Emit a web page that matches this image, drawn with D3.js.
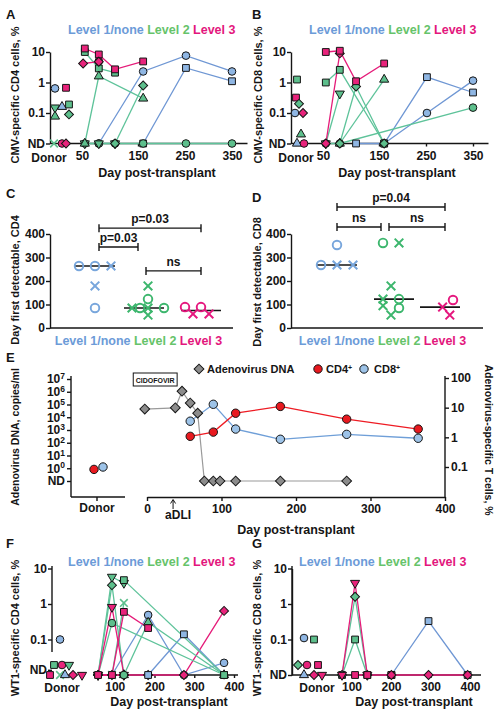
<!DOCTYPE html>
<html><head><meta charset="utf-8">
<script src="https://cdn.jsdelivr.net/npm/d3@7"></script>
<style>
body{margin:0;background:#fff}
svg text{font-family:"Liberation Sans",Arial,sans-serif;font-weight:bold;fill:#151515;white-space:pre}
</style></head><body>
<svg id="c" width="502" height="719"></svg>
<script>
// ---------------- DATA ----------------
const ND = "ND", ND2 = "ND2";
const levelNames = ["Level 1/none ", "Level 2 ", "Level 3"];
const dayTicksAB = [50, 150, 250, 350];
const dayTicksEFG = [0, 100, 200, 300, 400];
const firstTicks = [0, 100, 200, 300, 400];

// Panel A: CMV-specific CD4 (series: level, shape, [day, %])
const cmvCD4Series = [
  {lv:1, sh:"circle", p:[[80,ND],[161,2.3],[252,7.6],[350,2.3]]},
  {lv:1, sh:"square", p:[[161,ND],[252,3.0],[350,1.1]]},
  {lv:2, sh:"circle", p:[[55,ND],[80,ND],[109,ND],[161,ND],[252,ND],[350,ND]]},
  {lv:2, sh:"down",   p:[[55,ND],[80,ND],[109,ND]]},
  {lv:2, sh:"square", p:[[55,10],[80,2.9],[109,2.1]]},
  {lv:2, sh:"triangle", p:[[55,ND],[80,1.6],[161,0.3]]},
  {lv:2, sh:"diamond", p:[[109,ND],[161,0.8]]},
  {lv:3, sh:"square", p:[[55,13],[80,8.3],[109,2.7],[161,4.9]]},
  {lv:3, sh:"circle", p:[[80,5.0]]},
  {lv:3, sh:"diamond", p:[[52,4.2],[80,4.8]]}
];
const cmvCD4Donor = [
  {lv:1, sh:"circle", v:0.64, j:5}, {lv:3, sh:"square", v:0.67, j:16},
  {lv:2, sh:"square", v:0.19, j:19}, {lv:2, sh:"diamond", v:0.09, j:19},
  {lv:1, sh:"triangle", v:0.16, j:12}, {lv:2, sh:"down", v:0.15, j:5},
  {lv:2, sh:"triangle", v:0.077, j:5},
  {lv:2, sh:"x", v:ND, j:4}, {lv:3, sh:"circle", v:ND, j:12}, {lv:3, sh:"diamond", v:ND, j:16}
];

// Panel B: CMV-specific CD8
const cmvCD8Series = [
  {lv:1, sh:"square", p:[[109,ND],[161,ND],[252,1.5],[350,0.47]]},
  {lv:1, sh:"circle", p:[[161,ND],[252,0.1],[350,1.15]]},
  {lv:2, sh:"circle", p:[[55,ND],[80,ND],[350,0.15]]},
  {lv:2, sh:"down",   p:[[55,ND],[80,0.43]]},
  {lv:2, sh:"square", p:[[55,1.0],[80,2.6],[161,ND]]},
  {lv:2, sh:"triangle", p:[[80,ND],[161,1.25]]},
  {lv:2, sh:"diamond", p:[[80,ND],[109,0.74],[161,ND]]},
  {lv:3, sh:"diamond", p:[[55,ND],[80,9]]},
  {lv:3, sh:"square", p:[[55,10],[80,11],[109,1.1],[161,4.2]]}
];
const cmvCD8Donor = [
  {lv:2, sh:"square", v:1.25, j:6}, {lv:3, sh:"square", v:0.32, j:5},
  {lv:2, sh:"diamond", v:0.2, j:8}, {lv:1, sh:"circle", v:0.1, j:4},
  {lv:3, sh:"diamond", v:0.1, j:12}, {lv:2, sh:"triangle", v:0.02, j:10},
  {lv:1, sh:"triangle", v:ND, j:6}, {lv:3, sh:"circle", v:ND, j:13}
];

// Panels C, D: day first detectable (level, shape, day, jitter slot)
const cd4First = [
  {lv:1, sh:"circle", v:264, j:-2}, {lv:1, sh:"circle", v:264, j:0}, {lv:1, sh:"x", v:264, j:2},
  {lv:1, sh:"x", v:179, j:0}, {lv:1, sh:"circle", v:85, j:0},
  {lv:2, sh:"x", v:179, j:0}, {lv:2, sh:"circle", v:123, j:0}, {lv:2, sh:"x", v:85, j:-2},
  {lv:2, sh:"circle", v:85, j:-1}, {lv:2, sh:"x", v:85, j:0}, {lv:2, sh:"circle", v:85, j:2},
  {lv:2, sh:"x", v:55, j:0},
  {lv:3, sh:"circle", v:89, j:-2}, {lv:3, sh:"circle", v:89, j:0},
  {lv:3, sh:"x", v:60, j:-1}, {lv:3, sh:"x", v:60, j:1}
];
const cd8First = [
  {lv:1, sh:"circle", v:268, j:-2}, {lv:1, sh:"x", v:268, j:0}, {lv:1, sh:"x", v:268, j:2},
  {lv:1, sh:"circle", v:353, j:0},
  {lv:2, sh:"circle", v:362, j:-1}, {lv:2, sh:"x", v:362, j:1}, {lv:2, sh:"x", v:179, j:0},
  {lv:2, sh:"x", v:123, j:-1}, {lv:2, sh:"circle", v:123, j:1}, {lv:2, sh:"x", v:95, j:-1},
  {lv:2, sh:"circle", v:85, j:1}, {lv:2, sh:"x", v:55, j:0},
  {lv:3, sh:"x", v:89, j:-0.3}, {lv:3, sh:"circle", v:119, j:1}, {lv:3, sh:"x", v:55, j:0.6}
];
const cd4Brackets = [{a:1, b:3, label:"p=0.03", v:425}, {a:1, b:2, label:"p=0.03", v:345}, {a:2, b:3, label:"ns", v:243}];
const cd8Brackets = [{a:1, b:3, label:"p=0.04", v:515}, {a:1, b:2, label:"ns", v:430}, {a:2, b:3, label:"ns", v:430}];

// Panel E: adenovirus
const adenoDNA = [[-3,4.4e4],[38,5.5e4],[47,1.1e6],[58,1.3e5],[68,2.1e4],[77,ND],[89,ND],[98,ND],[119,ND],[179,ND],[268,ND]];
const adenoCD4 = [[58,1.08],[89,1.5],[119,6.5],[179,11],[268,4.1],[364,1.9]];
const adenoCD8 = [[58,3.5],[89,13],[119,1.9],[179,0.86],[268,1.26],[364,0.93]];
const adenoDonor = [{s:"CD4", v:0.083}, {s:"CD8", v:0.1}];
const dnaTicks = [0.1,1,10,100,1e3,1e4,1e5,1e6,1e7];
const pctTicks = [0.1,1,10,100];
const aDLIday = 35;

// Panel F: WT1-specific CD4
const wt1CD4Series = [
  {lv:1, sh:"circle", p:[[93,ND],[184,0.49],[274,ND],[375,0.022]]},
  {lv:3, sh:"diamond", p:[[58,ND],[93,ND],[123,ND],[184,ND],[274,ND],[375,0.64]]},
  {lv:1, sh:"square", p:[[184,ND],[274,0.14],[375,ND]]},
  {lv:2, sh:"circle", p:[[58,ND],[93,0.29],[375,ND]]},
  {lv:2, sh:"triangle", p:[[123,ND],[184,0.3],[375,ND]]},
  {lv:2, sh:"diamond", p:[[58,ND],[93,3.4],[123,ND]]},
  {lv:2, sh:"down", p:[[58,ND],[93,5.8],[123,3.9]]},
  {lv:2, sh:"square", p:[[123,4.7],[375,ND]]},
  {lv:2, sh:"x", p:[[93,ND],[123,1.07]]},
  {lv:3, sh:"down", p:[[58,ND],[93,0.82],[123,ND]]},
  {lv:3, sh:"square", p:[[58,ND],[93,ND],[123,0.6],[184,0.21]]},
  {lv:2, sh:"circle", p:[[123,ND]]}
];
const wt1CD4Donor = [
  {lv:1, sh:"circle", v:0.1, j:8}, {lv:2, sh:"square", v:ND2, j:2}, {lv:3, sh:"circle", v:ND2, j:10},
  {lv:2, sh:"down", v:ND2, j:17}, {lv:3, sh:"square", v:ND, j:-2}, {lv:2, sh:"x", v:ND, j:8},
  {lv:1, sh:"triangle", v:ND, j:13}, {lv:3, sh:"diamond", v:ND, j:21}, {lv:3, sh:"down", v:ND, j:30}
];

// Panel G: WT1-specific CD8
const wt1CD8Series = [
  {lv:1, sh:"square", p:[[201,ND],[295,0.33],[394,ND]]},
  {lv:2, sh:"square", p:[[76,ND],[109,0.1],[140,ND]]},
  {lv:2, sh:"diamond", p:[[76,ND],[109,1.6],[140,ND]]},
  {lv:3, sh:"down", p:[[76,ND],[109,3.9],[140,ND]]},
  {lv:3, sh:"square", p:[[109,ND],[140,ND],[201,ND]]},
  {lv:3, sh:"diamond", p:[[201,ND],[295,ND],[394,ND]]}
];
const wt1CD8Donor = [
  {lv:1, sh:"circle", v:0.11, j:12}, {lv:2, sh:"square", v:0.1, j:22},
  {lv:2, sh:"diamond", v:ND2, j:6}, {lv:3, sh:"circle", v:ND2, j:15}, {lv:3, sh:"square", v:ND2, j:26},
  {lv:1, sh:"triangle", v:ND, j:12}, {lv:3, sh:"diamond", v:ND, j:22}, {lv:3, sh:"down", v:ND, j:30}
];

// ---------------- DRAWING ----------------
const svg = d3.select("#c");
const INK = "#151515";
const COL = {
  1:{fill:"#8fb6e3", line:"#6f97d4", text:"#6c9bd8", open:"#78a6dc"},
  2:{fill:"#5dbf8c", line:"#5ec39a", text:"#66c36a", open:"#3cb66d"},
  3:{fill:"#e8237b", line:"#e51b79", text:"#e3177d", open:"#e5177e"}
};
function symPath(sh, k){
  k = k || 1;
  if (sh==="circle") return d3.symbol(d3.symbolCircle, 46*k)();
  if (sh==="square") return d3.symbol(d3.symbolSquare, 46*k)();
  if (sh==="diamond") return d3.symbol(d3.symbolSquare, 40*k)();
  if (sh==="triangle"||sh==="down") return d3.symbol(d3.symbolTriangle, 36*k)();
  return d3.symbol(d3.symbolTimes, 40*k)();
}
function rot(sh){ return sh==="diamond"?45:sh==="down"?180:0; }
function marker(g, sh, x, y, lv, open, k){
  const p = g.append("path").attr("d", symPath(sh,k)).attr("transform", `translate(${x},${y}) rotate(${rot(sh)})`);
  if (sh==="x") p.attr("fill","none").attr("stroke", open?COL[lv].open:COL[lv].fill).attr("stroke-width", open?2:1.6);
  else if (open) p.attr("fill","none").attr("stroke", COL[lv].open).attr("stroke-width",1.9);
  else p.attr("fill", COL[lv].fill).attr("stroke", INK).attr("stroke-width",1);
}
function styleAxis(g, fs){
  g.attr("font-size", fs||12).attr("font-family", null);
  g.selectAll("line").attr("stroke", INK).attr("stroke-width",1.4);
  g.selectAll(".domain").attr("stroke", INK).attr("stroke-width",1.4);
  g.selectAll("text").attr("fill", INK);
}
function hline(x1,x2,y){ svg.append("line").attr("x1",x1).attr("x2",x2).attr("y1",y).attr("y2",y).attr("stroke",INK).attr("stroke-width",1.4); }
function vline(x,y1,y2){ svg.append("line").attr("x1",x).attr("x2",x).attr("y1",y1).attr("y2",y2).attr("stroke",INK).attr("stroke-width",1.4); }
function txt(x,y,s,fs,anchor){ return svg.append("text").attr("x",x).attr("y",y).attr("font-size",fs).attr("text-anchor",anchor||"middle").text(s); }
function ylabel(x,y,s,r,fs){ svg.append("text").attr("transform",`translate(${x},${y}) rotate(${r||-90})`).attr("text-anchor","middle").attr("font-size",fs||11).text(s); }
function levelRow(x,y,anchor){
  const t = svg.append("text").attr("x",x).attr("y",y).attr("font-size",12.5).attr("text-anchor",anchor||"start");
  levelNames.forEach((n,i)=> t.append("tspan").style("fill",COL[i+1].text).text(n));
}

// -------- time-course panels (A, B, F, G) --------
function timePanel(o){
  const yv = v => v===ND ? o.y(o.ndVal) : v===ND2 ? o.y(o.ndVal)-10 : o.y(v);
  const g = svg.append("g");
  o.series.forEach(s=>{
    if (s.p.length<2) return;
    g.append("path").attr("d", d3.line().x(d=>o.x(d[0])).y(d=>yv(d[1]))(s.p))
      .attr("fill","none").attr("stroke",COL[s.lv].line).attr("stroke-width",1.3);
  });
  const jit = d3.scaleLinear().domain([0,30]).range([o.axisX, o.axisX+30]);
  o.donor.forEach(d=> marker(g, d.sh, jit(d.j), yv(d.v), d.lv));
  o.series.forEach(s=> s.p.forEach(d=> marker(g, s.sh, o.x(d[0]), yv(d[1]), s.lv)));
}

// Panel A
const xA = d3.scaleLinear().domain([50,150,350]).range([82,138,232]);
const yA = d3.scaleLog().domain([0.01,10]).range([143.5,52]);
const fmt = d3.format("~g");
styleAxis(svg.append("g").attr("transform","translate(50,0)")
  .call(d3.axisLeft(yA).tickValues([0.01,0.1,1,10]).tickFormat(d=>d===0.01?"ND":fmt(d)).tickSize(4).tickPadding(1).tickSizeOuter(0)));
hline(50, xA(383), yA(0.01));
{ const g = svg.append("g").attr("transform",`translate(0,${yA(0.01)})`)
    .call(d3.axisBottom(xA).tickValues(dayTicksAB).tickSize(3).tickPadding(5)); g.select(".domain").remove(); styleAxis(g); }
txt(49, 162, "Donor", 12);
timePanel({x:xA, y:yA, ndVal:0.01, axisX:50, series:cmvCD4Series, donor:cmvCD4Donor});
levelRow(68, 34);
txt(157, 177, "Day post-transplant", 12.5);
ylabel(19, 95, "CMV-specific CD4 cells, %");
txt(6, 19, "A", 13, "start");

// Panel B
const xB = d3.scaleLinear().domain([50,150,350]).range([323,379,473]);
const yB = yA;
styleAxis(svg.append("g").attr("transform","translate(291,0)")
  .call(d3.axisLeft(yB).tickValues([0.01,0.1,1,10]).tickFormat(d=>d===0.01?"ND":fmt(d)).tickSize(4).tickPadding(1).tickSizeOuter(0)));
hline(291, xB(383), yB(0.01));
{ const g = svg.append("g").attr("transform",`translate(0,${yB(0.01)})`)
    .call(d3.axisBottom(xB).tickValues(dayTicksAB).tickSize(3).tickPadding(5)); g.select(".domain").remove(); styleAxis(g); }
txt(296, 162, "Donor", 12);
timePanel({x:xB, y:yB, ndVal:0.01, axisX:291, series:cmvCD8Series, donor:cmvCD8Donor});
levelRow(309, 34);
txt(397, 177, "Day post-transplant", 12.5);
ylabel(262, 95, "CMV-specific CD8 cells, %");
txt(252, 19, "B", 13, "start");

// -------- C, D --------
function firstPanel(o){
  const y = d3.scaleLinear().domain([0,400]).range([328,234]);
  const x = d3.scalePoint().domain([1,2,3]).range(o.range);
  styleAxis(svg.append("g").attr("transform",`translate(${o.axisX},0)`)
    .call(d3.axisLeft(y).tickValues(firstTicks).tickSize(4).tickPadding(1).tickSizeOuter(0)));
  hline(o.axisX, o.axisEnd, y(0));
  const g = svg.append("g");
  [1,2,3].forEach(lv=>{
    const m = d3.median(o.data.filter(d=>d.lv===lv), d=>d.v);
    g.append("line").attr("x1",x(lv)-20+o.medShift[lv-1]).attr("x2",x(lv)+20+o.medShift[lv-1])
      .attr("y1",y(m)).attr("y2",y(m)).attr("stroke",INK).attr("stroke-width",1.6);
  });
  o.data.forEach(d=> marker(g, d.sh, x(d.lv)+d.j*8, y(d.v), d.lv, true, 1.25));
  const ends = {1:{l:o.l1, r:0}, 2:{l:-2, r:-10}, 3:{l:0, r:0}};
  o.brackets.forEach(b=>{
    const x1 = x(b.a)+ends[b.a].l, x2 = x(b.b)+ends[b.b].r, yy = y(b.v);
    hline(x1,x2,yy); vline(x1,yy-4,yy+4); vline(x2,yy-4,yy+4);
    txt((x1+x2)/2, yy-5, b.label, 12);
  });
}
firstPanel({axisX:50, axisEnd:233, range:[95,201], data:cd4First, brackets:cd4Brackets, l1:4, medShift:[0,-4,0]});
levelRow(138.5, 345, "middle");
ylabel(19, 280, "Day first detectable, CD4");
txt(6, 198, "C", 13, "start");
firstPanel({axisX:291, axisEnd:483, range:[337,445], data:cd8First, brackets:cd8Brackets, l1:0, medShift:[0,3,-5]});
levelRow(382.5, 345, "middle");
ylabel(261, 282, "Day first detectable, CD8");
txt(252, 202, "D", 13, "start");

// -------- E --------
const xE = d3.scaleLinear().domain([0,400]).range([147,445]);
const yEl = d3.scaleLog().domain([0.1,1e7]).range([481,379]);
const yEr = d3.scaleLog().domain([0.1,100]).range([467,378]);
const eBase = 497;
{ const g = svg.append("g").attr("transform","translate(71,0)")
    .call(d3.axisLeft(yEl).tickValues(dnaTicks).tickFormat(()=>"").tickSize(4).tickPadding(2).tickSizeOuter(0));
  g.select(".domain").remove(); styleAxis(g, 12);
  g.selectAll(".tick text").each(function(d){
    const t = d3.select(this);
    if (d===0.1) { t.text("ND"); return; }
    t.append("tspan").text("10");
    t.append("tspan").attr("dy","-0.5em").attr("font-size",8.5).text(Math.round(Math.log10(d)));
  });
}
vline(71, 376, eBase); hline(71, 125, eBase);
vline(97, eBase, eBase+4);
txt(97, 512, "Donor", 12);
{ const g = svg.append("g").attr("transform","translate(445,0)")
    .call(d3.axisRight(yEr).tickValues(pctTicks).tickFormat(fmt).tickSize(4).tickPadding(2).tickSizeOuter(0));
  g.select(".domain").remove(); styleAxis(g, 12); }
vline(445, 376, eBase);
{ const g = svg.append("g").attr("transform",`translate(0,${eBase})`)
    .call(d3.axisBottom(xE).tickValues(dayTicksEFG).tickSize(4).tickPadding(3).tickSizeOuter(0));
  styleAxis(g, 12); }
{
  const yD = v => v===ND ? yEl(0.1) : yEl(v);
  const g = svg.append("g");
  g.append("path").attr("d", d3.line().x(d=>xE(d[0])).y(d=>yD(d[1]))(adenoDNA)).attr("fill","none").attr("stroke","#9a9a9a").attr("stroke-width",1.2);
  g.append("path").attr("d", d3.line().x(d=>xE(d[0])).y(d=>yEr(d[1]))(adenoCD8)).attr("fill","none").attr("stroke","#6f9fd8").attr("stroke-width",1.3);
  g.append("path").attr("d", d3.line().x(d=>xE(d[0])).y(d=>yEr(d[1]))(adenoCD4)).attr("fill","none").attr("stroke","#ee1c24").attr("stroke-width",1.3);
  const dia = (x,y)=> g.append("path").attr("d", d3.symbol(d3.symbolSquare,48)()).attr("transform",`translate(${x},${y}) rotate(45)`).attr("fill","#8c8c8c").attr("stroke",INK).attr("stroke-width",1);
  const circ = (x,y,c)=> g.append("circle").attr("cx",x).attr("cy",y).attr("r",4.2).attr("fill",c).attr("stroke",INK).attr("stroke-width",1);
  adenoDNA.forEach(d=> dia(xE(d[0]), yD(d[1])));
  adenoCD8.forEach(d=> circ(xE(d[0]), yEr(d[1]), "#9dc3e8"));
  adenoCD4.forEach(d=> circ(xE(d[0]), yEr(d[1]), "#e8191f"));
  const dj = d3.scalePoint().domain(adenoDonor.map(d=>d.s)).range([94,103]);
  adenoDonor.forEach(d=> circ(dj(d.s), yEr(d.v), d.s==="CD4"?"#e8191f":"#9dc3e8"));
  // legend
  dia(199, 369); txt(207, 373, "Adenovirus DNA", 11, "start");
  circ(318, 369, "#e8191f");
  const t1 = txt(326, 373, "CD4", 11, "start"); t1.append("tspan").attr("dy","-0.45em").attr("font-size",7).text("+");
  circ(364, 369, "#9dc3e8");
  const t2 = txt(374, 373, "CD8", 11, "start"); t2.append("tspan").attr("dy","-0.45em").attr("font-size",7).text("+");
  // cidofovir box
  const ct = txt(xE(11), 382.5, "CIDOFOVIR", 7);
  const bb = ct.node().getBBox();
  svg.insert("rect", () => ct.node()).attr("x", bb.x-2.5).attr("y", 373).attr("width", bb.width+5).attr("height", 13).attr("fill","#fff").attr("stroke",INK).attr("stroke-width",1);
  // aDLI arrow
  const ax = xE(aDLIday);
  svg.append("path").attr("d",`M${ax},509V500M${ax-2.5},503.5L${ax},499.5L${ax+2.5},503.5`).attr("fill","none").attr("stroke",INK).attr("stroke-width",1);
  txt(ax+5, 519, "aDLI", 12);
}
txt(296, 534, "Day post-transplant", 12.5);
ylabel(19, 437, "Adenovirus DNA, copies/ml", -90, 10.5);
ylabel(485, 440, "Adenovirus-specific T cells, %", 90, 10.5);
txt(6, 362, "E", 13, "start");

// -------- F --------
const xF = d3.scaleLinear().domain([0,400]).range([75,234]);
const yF = d3.scaleLog().domain([0.01,10]).range([675,568.5]);
{ const g = svg.append("g").attr("transform","translate(52,0)")
    .call(d3.axisLeft(yF).tickValues([0.1,1,10]).tickFormat(fmt).tickSize(4).tickPadding(1).tickSizeOuter(0));
  g.select(".domain").remove(); styleAxis(g); }
vline(52, 566, 652);
{ const g = svg.append("g").attr("transform","translate(52,0)")
    .call(d3.axisLeft(yF).tickValues([0.014]).tickFormat(()=>"ND").tickSize(4).tickPadding(1).tickSizeOuter(0));
  g.select(".domain").remove(); styleAxis(g); }
hline(93, 238, yF(0.01));
{ const g = svg.append("g").attr("transform",`translate(0,${yF(0.01)})`)
    .call(d3.axisBottom(xF).tickValues(dayTicksEFG.slice(1)).tickSize(3).tickPadding(4)); g.select(".domain").remove(); styleAxis(g); }
txt(62, 692, "Donor", 12);
timePanel({x:xF, y:yF, ndVal:0.01, axisX:52, series:wt1CD4Series, donor:wt1CD4Donor});
levelRow(68, 566);
txt(169, 706, "Day post-transplant", 12.5);
ylabel(19, 628, "WT1-specific CD4 cells, %");
txt(6, 548, "F", 13, "start");

// -------- G --------
const xG = d3.scaleLinear().domain([0,400]).range([312,470]);
const yG = yF;
styleAxis(svg.append("g").attr("transform","translate(292,0)")
  .call(d3.axisLeft(yG).tickValues([0.01,0.1,1,10]).tickFormat(d=>d===0.01?"ND":fmt(d)).tickSize(4).tickPadding(1).tickSizeOuter(0)));
vline(292, 566, 675);
hline(292, 481, yG(0.01));
{ const g = svg.append("g").attr("transform",`translate(0,${yG(0.01)})`)
    .call(d3.axisBottom(xG).tickValues(dayTicksEFG.slice(1)).tickSize(3).tickPadding(4)); g.select(".domain").remove(); styleAxis(g); }
txt(317, 692, "Donor", 12);
timePanel({x:xG, y:yG, ndVal:0.01, axisX:292, series:wt1CD8Series, donor:wt1CD8Donor});
levelRow(299, 566);
txt(414, 706, "Day post-transplant", 12.5);
ylabel(261, 628, "WT1-specific CD8 cells, %");
txt(252, 548, "G", 13, "start");
</script></body></html>
